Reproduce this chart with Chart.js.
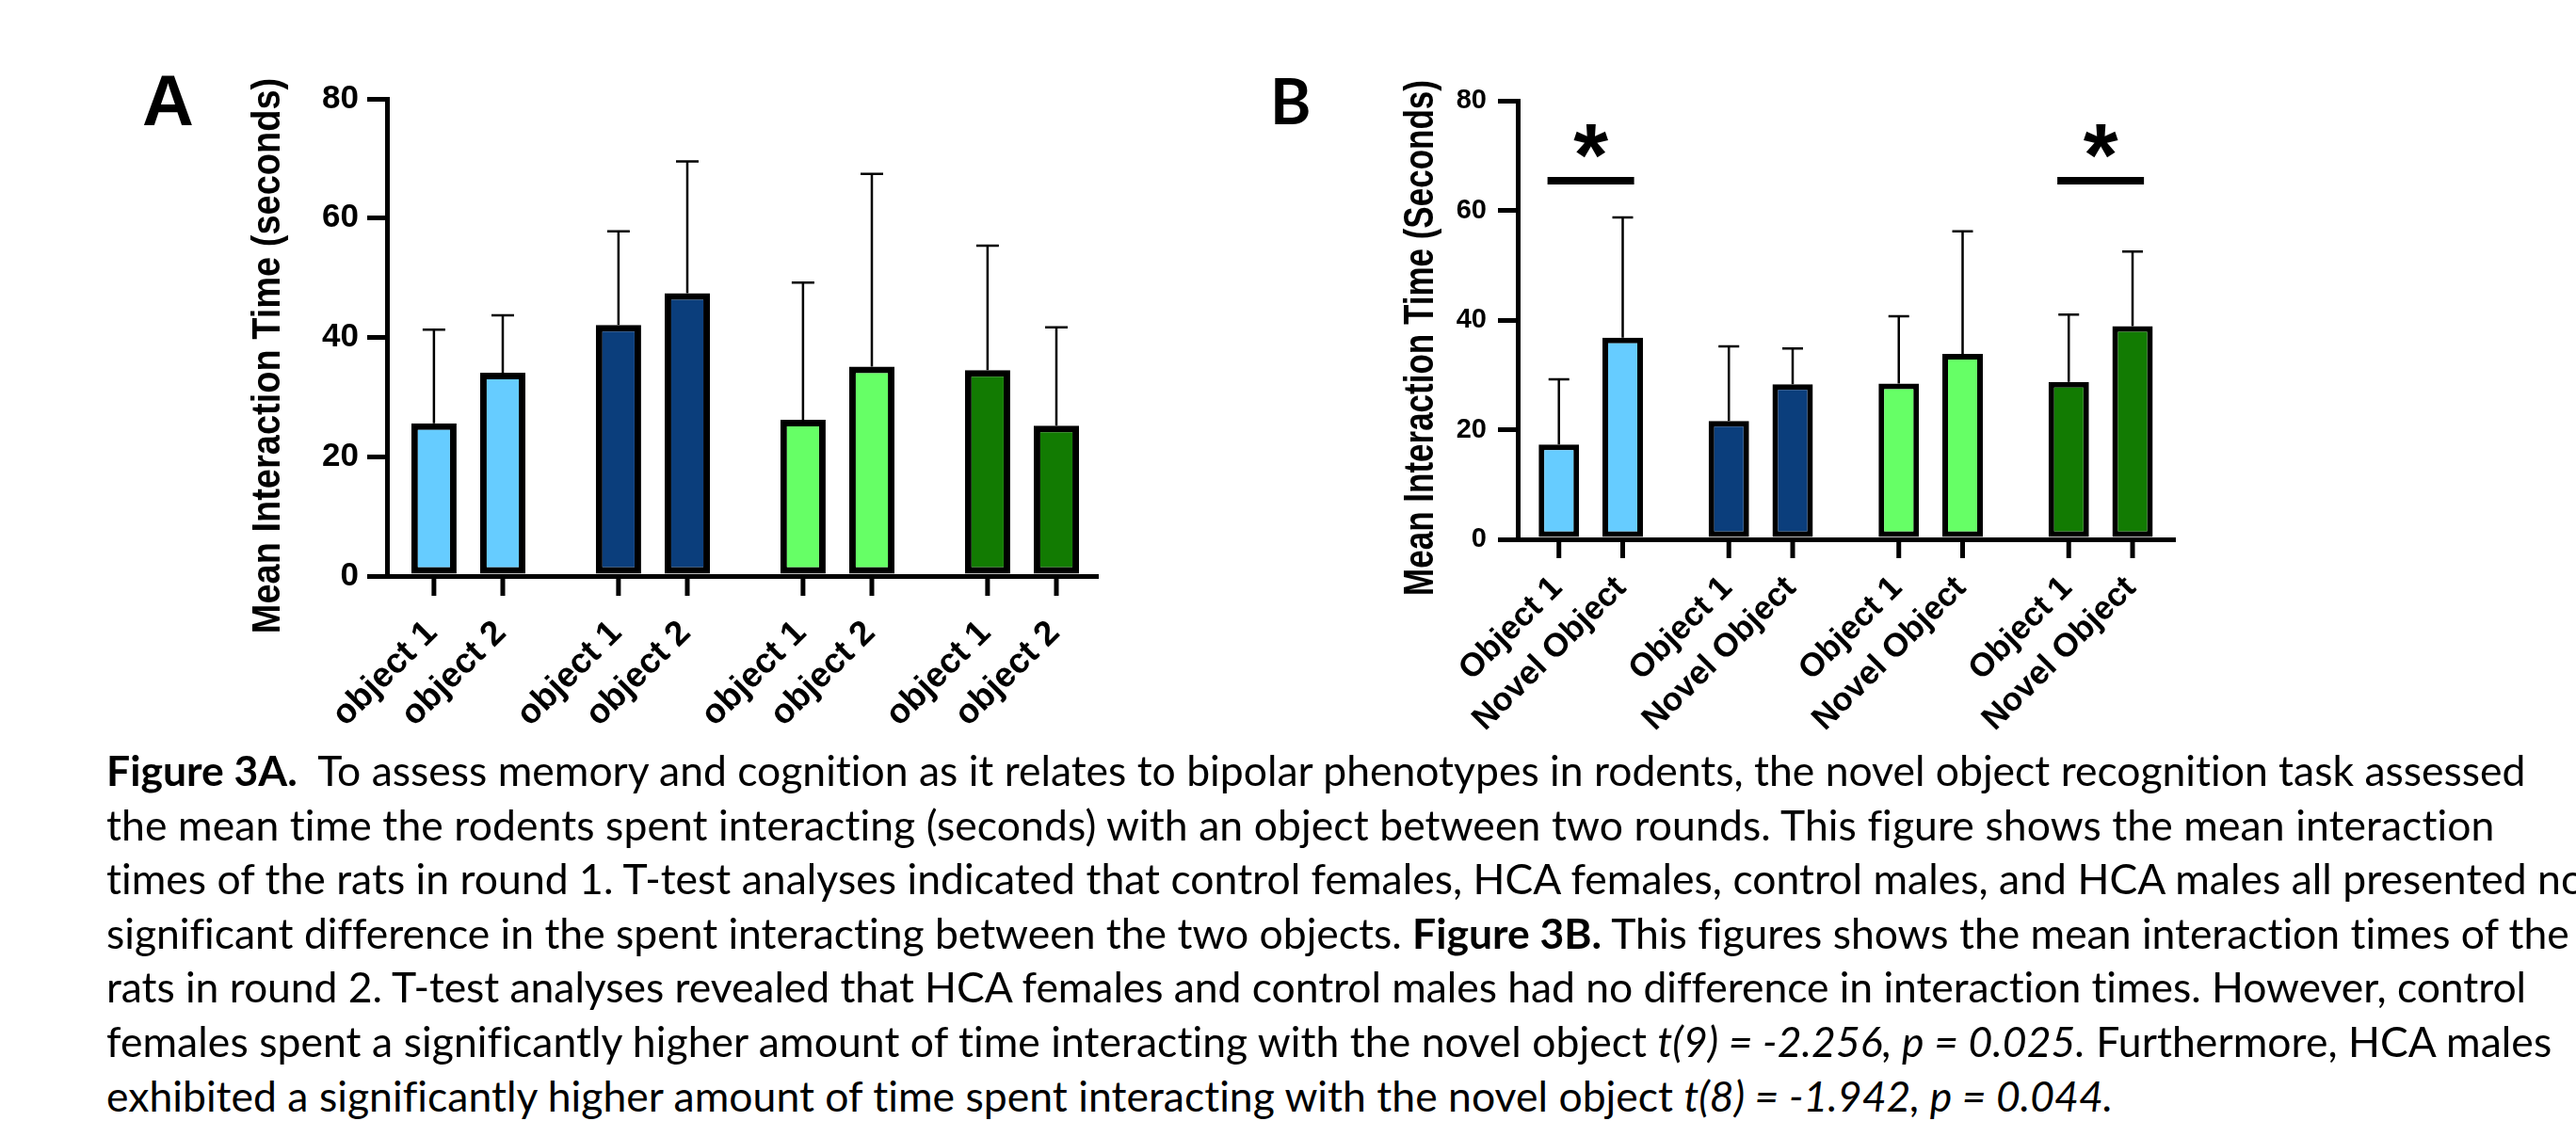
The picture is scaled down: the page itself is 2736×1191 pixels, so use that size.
<!DOCTYPE html>
<html>
<head>
<meta charset="utf-8">
<script src="https://cdn.jsdelivr.net/npm/chart.js"></script>
<style>
  html, body { margin: 0; padding: 0; background: #fff; }
  body { width: 2736px; height: 1191px; position: relative; overflow: hidden; }
  canvas { position: absolute; top: 0; }
  #chartA { left: 0; }
  #chartB { left: 1330px; }
  .panel { position: absolute; top: 0; white-space: nowrap; color: #000; }
  #panelA { left: 151px; font: bold 76px/76px 'Liberation Sans', Arial, sans-serif; }
  #panelB { left: 1349px; font: bold 66px/66px Lato, sans-serif; }
  .line { position: absolute; top: 0; left: 113px; white-space: nowrap; color: #000;
          font-family: Lato, sans-serif; font-size: 43px; line-height: 58px; }
  .base { display: inline-block; width: 0; height: 0; }
</style>
</head>
<body>
<canvas id="chartA" width="1250" height="790"></canvas>
<canvas id="chartB" width="1000" height="790"></canvas>
<div class="panel" id="panelA"><span class="base"></span>A</div>
<div class="panel" id="panelB"><span class="base"></span>B</div>

<div id="caption">
  <div class="line"><span class="base"></span><span class="txt"><b>Figure 3A.</b>&nbsp; To assess memory and cognition as it relates to bipolar phenotypes in rodents, the novel object recognition task assessed</span></div>
  <div class="line"><span class="base"></span><span class="txt">the mean time the rodents spent interacting (seconds) with an object between two rounds. This figure shows the mean interaction</span></div>
  <div class="line"><span class="base"></span><span class="txt">times of the rats in round 1. T-test analyses indicated that control females, HCA females, control males, and HCA males all presented no</span></div>
  <div class="line"><span class="base"></span><span class="txt">significant difference in the spent interacting between the two objects. <b>Figure 3B.</b> This figures shows the mean interaction times of the</span></div>
  <div class="line"><span class="base"></span><span class="txt">rats in round 2. T-test analyses revealed that HCA females and control males had no difference in interaction times. However, control</span></div>
  <div class="line"><span class="base"></span><span class="txt">females spent a significantly higher amount of time interacting with the novel object <i>t(9) = -2.256, p = 0.025.</i> Furthermore, HCA males</span></div>
  <div class="line"><span class="base"></span><span class="txt">exhibited a significantly higher amount of time spent interacting with the novel object <i>t(8) = -1.942, p = 0.044.</i></span></div>
</div>

<script>
// groups (not printed on the figure, named in the caption)
const groups = ['Control Females', 'HCA Females', 'Control Males', 'HCA Males'];
const groupColors = ['#66CCFF', '#0B3E7C', '#66FF66', '#127B02'];
const yTicks = [0, 20, 40, 60, 80];

// Figure 3A - round 1, mean interaction time (s) and upper error
const round1Labels = ['object 1', 'object 2'];
const round1Object1 = [25.6, 42.1, 26.2, 34.5];
const round1Object2 = [34.1, 47.4, 35.1, 25.2];
const round1Object1Err = [15.7, 15.7, 23.0, 20.9];
const round1Object2Err = [9.6, 22.1, 32.3, 16.5];

// Figure 3B - round 2
const round2Labels = ['Object 1', 'Novel Object'];
const round2Object1 = [17.3, 21.6, 28.4, 28.7];
const round2Novel = [36.8, 28.3, 33.8, 38.9];
const round2Object1Err = [11.9, 13.6, 12.3, 12.3];
const round2NovelErr = [21.9, 6.5, 22.4, 13.6];

// significant pairs in round 2 (group index) and height of the bar
const round2Significant = [0, 3];
const significanceLevel = 65.4;

const FONT = "'Liberation Sans', Arial, sans-serif";

// error bars, x ticks, rotated labels, significance marks, y title
const figureExtras = {
    id: 'figureExtras',
    afterDatasetsDraw(chart, args, opts) {
        const ctx = chart.ctx;
        const yScale = chart.scales.y;
        const base = chart.chartArea.bottom;
        ctx.save();
        ctx.strokeStyle = '#000';
        ctx.fillStyle = '#000';
        ctx.lineCap = 'butt';

        chart.data.datasets.forEach((ds, di) => {
            chart.getDatasetMeta(di).data.forEach((bar, i) => {
                const top = yScale.getPixelForValue(ds.data[i].y + ds.errors[i]);
                ctx.lineWidth = opts.errorWidth;
                ctx.beginPath();
                ctx.moveTo(bar.x, bar.y);
                ctx.lineTo(bar.x, top);
                ctx.moveTo(bar.x - opts.capWidth / 2, top);
                ctx.lineTo(bar.x + opts.capWidth / 2, top);
                ctx.stroke();

                ctx.lineWidth = 5;
                ctx.beginPath();
                ctx.moveTo(bar.x, base);
                ctx.lineTo(bar.x, base + opts.tickLength);
                ctx.stroke();

                ctx.save();
                ctx.translate(bar.x + opts.labelDx, base + opts.labelDy);
                ctx.rotate(-Math.PI / 4);
                ctx.font = opts.labelFont;
                ctx.textAlign = 'right';
                ctx.textBaseline = 'alphabetic';
                ctx.fillText(ds.label, 0, 0);
                ctx.restore();
            });
        });

        (opts.significant || []).forEach(g => {
            const a = chart.getDatasetMeta(0).data[g];
            const b = chart.getDatasetMeta(1).data[g];
            const cx = (a.x + b.x) / 2;
            const y = yScale.getPixelForValue(opts.sigLevel);
            ctx.lineWidth = 8;
            ctx.beginPath();
            ctx.moveTo(cx - 46, y);
            ctx.lineTo(cx + 46, y);
            ctx.stroke();

            ctx.font = 'bold 100px ' + FONT;
            let m = ctx.measureText('*');
            const size = 100 * 36 / (m.actualBoundingBoxAscent + m.actualBoundingBoxDescent);
            ctx.font = 'bold ' + size + 'px ' + FONT;
            m = ctx.measureText('*');
            ctx.textAlign = 'center';
            ctx.textBaseline = 'alphabetic';
            const mid = (m.actualBoundingBoxAscent - m.actualBoundingBoxDescent) / 2;
            ctx.fillText('*', cx, y - 42 + mid);
        });

        const t = opts.title;
        ctx.save();
        ctx.translate(t.x, t.y);
        ctx.rotate(-Math.PI / 2);
        ctx.scale(1, t.stretch);
        ctx.font = t.font;
        ctx.textAlign = 'center';
        ctx.textBaseline = 'alphabetic';
        ctx.fillText(t.text, 0, 0);
        ctx.restore();

        ctx.restore();
    }
};

function makeChart(id, cfg) {
    return new Chart(document.getElementById(id), {
        type: 'bar',
        data: {
            datasets: cfg.series.map((s, k) => ({
                label: cfg.labels[k],
                data: s.values.map((v, i) => ({ x: i, y: v })),
                errors: s.errors,
                backgroundColor: groupColors,
                borderColor: '#000',
                borderWidth: cfg.barBorder,
                borderSkipped: false,
                categoryPercentage: cfg.catPct,
                barPercentage: cfg.barPct
            }))
        },
        options: {
            responsive: false,
            animation: false,
            layout: { padding: cfg.padding },
            plugins: {
                legend: { display: false },
                tooltip: { enabled: false },
                figureExtras: cfg.extras
            },
            scales: {
                x: {
                    type: 'linear',
                    offset: false,
                    min: cfg.xMin,
                    max: cfg.xMax,
                    afterFit: s => { s.height = 10; },
                    ticks: { display: false, stepSize: 1, includeBounds: false },
                    grid: { display: false },
                    border: { display: true, width: 5, color: '#000' }
                },
                y: {
                    min: yTicks[0],
                    max: yTicks[yTicks.length - 1],
                    afterFit: s => { s.width = cfg.yWidth; },
                    ticks: {
                        stepSize: yTicks[1] - yTicks[0],
                        color: '#000',
                        padding: cfg.tickPad,
                        font: { family: FONT, weight: 'bold', size: cfg.tickSize }
                    },
                    grid: { drawOnChartArea: false, drawTicks: true, tickLength: 21, lineWidth: 5, color: '#000' },
                    border: { display: true, width: 5, color: '#000' }
                }
            }
        },
        plugins: [figureExtras]
    });
}

makeChart('chartA', {
    labels: round1Labels,
    series: [
        { values: round1Object1, errors: round1Object1Err },
        { values: round1Object2, errors: round1Object2Err }
    ],
    barBorder: 7,
    catPct: 0.746,
    barPct: 0.658,
    padding: { left: 291, top: 105, right: 84, bottom: 168 },
    yWidth: 120,
    tickPad: 9,
    tickSize: 35,
    xMin: -0.441,
    xMax: 3.411,
    extras: {
        errorWidth: 2.5, capWidth: 24, tickLength: 21,
        labelDx: 5, labelDy: 62, labelFont: 'bold 37px ' + FONT,
        title: { text: 'Mean Interaction Time (seconds)', x: 297, y: 378, stretch: 1.1, font: 'bold 38px ' + FONT }
    }
});

makeChart('chartB', {
    labels: round2Labels,
    series: [
        { values: round2Object1, errors: round2Object1Err },
        { values: round2Novel, errors: round2NovelErr }
    ],
    barBorder: 6,
    catPct: 0.751,
    barPct: 0.634,
    padding: { left: 182, top: 107, right: 20, bottom: 207 },
    yWidth: 100,
    tickPad: 12,
    tickSize: 29,
    xMin: -0.43,
    xMax: 3.437,
    extras: {
        errorWidth: 2.5, capWidth: 22, tickLength: 20,
        labelDx: 5, labelDy: 53, labelFont: 'bold 35px ' + FONT,
        significant: round2Significant, sigLevel: significanceLevel,
        title: { text: 'Mean Interaction Time (Seconds)', x: 192, y: 359, stretch: 1.25, font: 'bold 35px ' + FONT }
    }
});

// caption: fit Lato to the original line lengths and baselines
const captionLeft = 113;
const captionBaselines = [835, 892.6, 950.2, 1007.8, 1065.4, 1123, 1180.6];
const captionRight = [2684, 2651, 2746, 2728, 2683, 2711, 2245];

function putOnBaseline(el, baseline) {
    const b = el.querySelector('.base').getBoundingClientRect().top;
    el.style.top = (parseFloat(el.style.top || 0) + baseline - b) + 'px';
}

const lines = Array.from(document.querySelectorAll('#caption .line'));
const w0 = lines[0].querySelector('.txt').getBoundingClientRect().width;
const captionSize = 43 * (captionRight[0] - captionLeft) / w0;
lines.forEach((l, i) => {
    l.style.fontSize = captionSize + 'px';
    const txt = l.querySelector('.txt');
    const w = txt.getBoundingClientRect().width;
    l.style.letterSpacing = ((captionRight[i] - captionLeft - w) / txt.textContent.length) + 'px';
    putOnBaseline(l, captionBaselines[i]);
});
putOnBaseline(document.getElementById('panelA'), 133);
putOnBaseline(document.getElementById('panelB'), 132);
</script>
</body>
</html>
